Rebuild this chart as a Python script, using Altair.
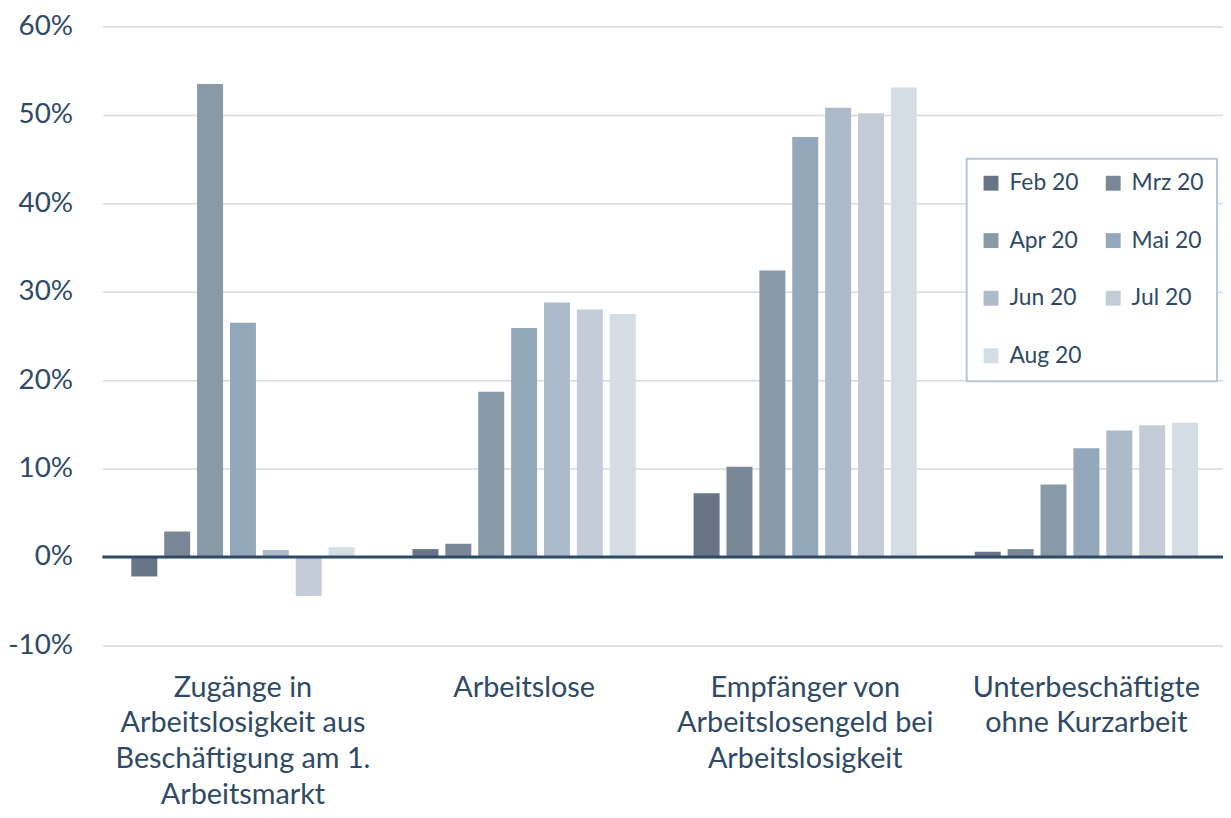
import altair as alt
import pandas as pd

categories = [
    "Zugänge in|Arbeitslosigkeit aus|Beschäftigung am 1.|Arbeitsmarkt",
    "Arbeitslose",
    "Empfänger von|Arbeitslosengeld bei|Arbeitslosigkeit",
    "Unterbeschäftigte|ohne Kurzarbeit",
]
months = ["Feb 20", "Mrz 20", "Apr 20", "Mai 20", "Jun 20", "Jul 20", "Aug 20"]
colors = ["#687586", "#7a8797", "#8899a8", "#94a8bb", "#adbac9", "#c3ccd7", "#d4dce4"]

feb = [-2.2, 0.9, 7.2, 0.6]
mrz = [2.9, 1.5, 10.2, 0.9]
apr = [53.5, 18.7, 32.4, 8.2]
mai = [26.5, 25.9, 47.5, 12.3]
jun = [0.8, 28.8, 50.8, 14.3]
jul = [-4.4, 28.0, 50.2, 14.9]
aug = [1.1, 27.5, 53.1, 15.2]
series = [feb, mrz, apr, mai, jun, jul, aug]

rows = []
for m, vals in zip(months, series):
    for c, v in zip(categories, vals):
        rows.append({"cat": c, "month": m, "value": v})
df = pd.DataFrame(rows)

text_color = "#2e4a66"
font = "Lato"

bars = alt.Chart(df).mark_bar().encode(
    x=alt.X("cat:N", sort=categories, title=None,
            scale=alt.Scale(paddingInner=0, paddingOuter=0, range=[0, 1132]),
            axis=alt.Axis(labelExpr="split(datum.label, '|')", labelAngle=0,
                          labelFontSize=29, labelColor=text_color, labelFont=font,
                          labelLineHeight=36, labelPadding=28, labelBaseline="top",
                          domain=False, ticks=False, grid=False, labelLimit=400)),
    xOffset=alt.XOffset("month:N", sort=months,
                        scale=alt.Scale(paddingInner=0.21, paddingOuter=0.88)),
    y=alt.Y("value:Q", title=None,
            scale=alt.Scale(domain=[-10, 60], nice=False, zero=False),
            axis=alt.Axis(values=[-10, 0, 10, 20, 30, 40, 50, 60],
                          labelExpr="datum.value + '%'",
                          labelFontSize=28, labelColor=text_color, labelFont=font,
                          labelPadding=30, domain=False, ticks=False,
                          gridColor="#d9d9d9", gridWidth=1.5)),
    color=alt.Color("month:N", sort=months,
                    scale=alt.Scale(domain=months, range=colors),
                    legend=alt.Legend(title=None, orient="none", legendX=870, legendY=133,
                                      direction="horizontal",
                                      columns=2, symbolType="square", symbolSize=225,
                                      symbolStrokeWidth=0,
                                      labelFontSize=23, labelColor=text_color, labelFont=font,
                                      labelOffset=7, columnPadding=20, rowPadding=34,
                                      padding=13, fillColor="white",
                                      strokeColor="#b8c6d4")),
)

zero = alt.Chart(pd.DataFrame({"y": [0]})).mark_rule(color=text_color, strokeWidth=3).encode(
    y=alt.Y("y:Q")
)

chart = (
    alt.layer(bars, zero)
    .properties(width=1128, height=623, autosize=alt.AutoSizeParams(type="none"),
                padding={"left": 95, "top": 16, "right": 0, "bottom": 163})
    .configure_view(stroke=None)
    .configure_legend(strokeWidth=2)
)

chart.save("out.html", embed_options={"renderer": "svg", "actions": False})
